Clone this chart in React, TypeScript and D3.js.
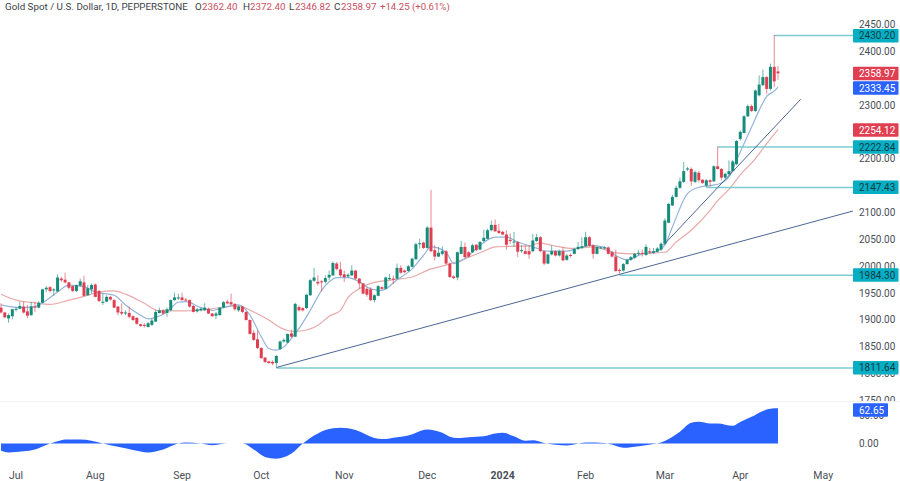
import * as d3 from "d3";
import { useEffect, useRef } from "react";

// daily candles, one entry per bar
const opens = [1923,1914,1903,1907,1919,1921,1925,1916,1909,1925,1923,1932,1957,1961,1955,1953,1977,1975,1970,1963,1954,1964,1970,1946,1957,1966,1954,1932,1934,1943,1937,1925,1915,1913,1913,1907,1904,1892,1891,1887,1891,1897,1913,1918,1913,1918,1937,1940,1942,1938,1937,1926,1916,1918,1918,1921,1912,1908,1909,1923,1934,1933,1930,1918,1925,1915,1900,1876,1864,1848,1830,1823,1822,1820,1846,1860,1858,1875,1869,1924,1922,1922,1946,1973,1971,1972,1971,1979,1983,2005,1994,1985,1981,1983,1992,1977,1968,1958,1957,1937,1945,1961,1958,1976,1977,1977,1997,1992,1991,1999,2013,2041,2044,2034,2072,2030,2018,2023,2028,2005,1981,1979,2023,2036,2026,2026,2040,2031,2047,2051,2067,2077,2066,2064,2059,2049,2045,2045,2029,2028,2028,2028,2047,2054,2028,2005,2022,2028,2020,2028,2012,2021,2023,2032,2034,2037,2054,2039,2023,2034,2034,2035,2026,2018,1993,1992,2004,2012,2016,2024,2025,2021,2028,2025,2027,2031,2042,2081,2113,2129,2146,2157,2180,2181,2157,2174,2161,2150,2160,2158,2186,2181,2165,2171,2177,2190,2237,2248,2279,2298,2289,2318,2337,2352,2330,2371,2362.4];
const highs = [1931,1915,1912,1921,1924,1934,1934,1928,1934,1934,1935,1958,1963,1963,1959,1985,1980,1988,1971,1964,1966,1977,1982,1965,1968,1968,1956,1949,1946,1945,1939,1926,1931,1918,1925,1908,1905,1893,1894,1896,1903,1918,1923,1920,1923,1938,1951,1949,1951,1941,1938,1928,1922,1923,1931,1923,1913,1915,1924,1935,1938,1949,1931,1927,1926,1916,1901,1881,1881,1849,1831,1824,1825,1835,1862,1866,1875,1882,1932,1927,1924,1948,1976,1997,1983,1974,1983,1992,2009,2008,2008,1992,1987,2002,1993,1978,1969,1961,1961,1948,1965,1963,1981,1986,1983,2005,2002,1994,2002,2016,2044,2051,2046,2075,2142,2039,2036,2037,2030,2007,1983,2027,2047,2044,2028,2042,2042,2047,2068,2070,2085,2087,2079,2066,2067,2061,2064,2047,2039,2039,2039,2060,2060,2056,2029,2024,2039,2030,2031,2036,2023,2024,2035,2045,2054,2064,2056,2041,2037,2037,2037,2037,2028,2031,1996,2006,2014,2019,2025,2030,2031,2041,2034,2034,2036,2044,2089,2118,2133,2150,2165,2194,2185,2184,2178,2177,2162,2162,2162,2188,2222.84,2183,2174,2197,2198,2235,2253,2281,2301,2301,2329,2355,2366,2354,2377,2430.2,2372.4];
const lows = [1912,1903,1895,1901,1916,1920,1912,1903,1908,1915,1922,1931,1952,1951,1945,1953,1971,1968,1957,1952,1952,1962,1944,1945,1949,1942,1934,1928,1933,1936,1922,1909,1909,1909,1903,1898,1891,1887,1886,1886,1889,1896,1912,1910,1906,1917,1936,1937,1936,1935,1923,1914,1914,1916,1917,1911,1906,1902,1908,1922,1929,1928,1917,1915,1913,1899,1873,1861,1846,1828,1820,1818,1816,1812,1844,1858,1857,1867,1868,1916,1916,1921,1945,1971,1964,1953,1968,1974,1982,1992,1980,1971,1979,1982,1975,1958,1948,1943,1935,1933,1944,1956,1957,1974,1967,1975,1986,1987,1990,1998,2012,2033,2032,2033,2026,2011,2017,2020,2003,1978,1976,1974,2022,2015,2016,2025,2028,2030,2045,2050,2065,2064,2060,2058,2031,2042,2036,2017,2025,2022,2014,2026,2045,2026,2002,2004,2020,2018,2018,2009,2010,2016,2022,2030,2032,2036,2036,2014,2022,2032,2031,2022,2016,1990,1985,1990,2003,2010,2014,2020,2018,2019,2022,2023,2025,2028,2041,2080,2112,2128,2144,2155,2177,2150,2155,2157,2153,2147.43,2148,2157,2180,2160,2162,2169,2176,2188,2234,2247,2278,2287,2287,2316,2335,2321,2327,2333,2346.82];
const closes = [1914,1905,1909,1920,1921,1926,1914,1908,1925,1923,1932,1957,1960,1954,1957,1979,1974,1970,1960,1954,1965,1972,1945,1959,1965,1943,1935,1934,1943,1938,1923,1914,1912,1914,1906,1900,1893,1889,1889,1894,1899,1915,1918,1912,1920,1937,1942,1942,1937,1937,1925,1915,1920,1921,1923,1912,1907,1912,1923,1933,1931,1929,1920,1925,1915,1900,1874,1863,1848,1829,1822,1820,1819,1833,1860,1863,1874,1869,1930,1918,1918,1947,1974,1979,1968,1970,1978,1984,2006,1995,1983,1980,1984,1992,1977,1968,1949,1947,1937,1946,1963,1958,1979,1978,1975,1997,1988,1989,2000,2014,2041,2043,2034,2072,2028,2018,2025,2028,2005,1980,1978,2026,2036,2017,2018,2039,2030,2045,2053,2067,2077,2065,2062,2059,2040,2047,2046,2027,2030,2023,2022,2048,2054,2028,2005,2022,2028,2020,2028,2011,2020,2019,2032,2036,2037,2054,2038,2023,2036,2035,2035,2023,2018,1991,1992,2004,2012,2017,2023,2025,2024,2036,2026,2028,2033,2042,2085,2116,2129,2146,2158,2177,2182,2158,2175,2160,2155,2160,2157,2186,2181,2165,2172,2177,2195,2233,2250,2279,2298,2289,2327,2338,2352,2330,2371,2344,2358.97];

// moving averages, read at a handful of bars
const fastMaBars = [0,5,9,11,15,18,22,25,30,33,37,39,41,44,47,49,53,56,60,63,66,69,71,73,75,77,79,82,85,87,89,92,95,98,101,105,109,112,114,118,120,123,127,131,134,137,141,145,150,153,156,160,163,166,170,174,176,178,182,185,188,191,193,195,197,199,201,203,205,206];
const fastMaValues = [1928,1923,1925,1932,1952,1965,1962,1952,1946,1928,1909,1902,1905,1915,1933,1934,1923,1918,1925,1928,1909,1869,1847,1844,1850,1866,1884,1918,1955,1971,1979,1979,1971,1958,1955,1975,1995,2020,2036,2026,2005,2014,2039,2054,2054,2045,2036,2028,2028,2034,2039,2035,2020,2012,2023,2028,2039,2073,2135,2147,2150,2155,2166,2197,2228,2259,2290,2316,2326,2333.45];
const slowMaBars = [0,4,9,13,18,22,26,30,33,38,42,49,55,60,63,67,71,74,77,80,84,87,90,92,95,98,104,109,114,118,123,128,131,135,140,143,146,152,157,163,168,176,179,183,188,190,193,196,200,203,206];
const slowMaValues = [1948,1937,1932,1929,1937,1944,1952,1954,1948,1931,1917,1917,1920,1925,1926,1915,1900,1886,1879,1880,1890,1907,1918,1942,1958,1968,1975,1980,1995,2002,2014,2028,2036,2037,2038,2043,2039,2033,2036,2025,2023,2026,2045,2067,2104,2122,2143,2170,2200,2228,2254.12];

// lower pane oscillator
const oscBars = [0,2,6,9,13,16,17,21,24,27,31,35,39,43,47,49,53,56,60,64,67,70,73,77,80,84,88,90,94,99,101,105,108,113,117,119,121,124,128,131,133,136,139,141,144,150,155,160,162,165,169,173,175,180,183,185,188,190,194,196,199,202,204,206];
const oscValues = [-13,-16,-14,-10.5,0,6,7,7,5,0,-6,-11.5,-16,-10.5,0,2,0,-3,0,0,-10.5,-24,-27,-18,0,18,27,28,24,10,8,11.3,14.4,25,19,12,9.6,11.3,13,18,19,13,5,6,1,-3.5,1.8,1.1,-2,-7.7,-4.8,-1,2,21,37,38.5,35.5,35.5,31.5,38.3,47.5,58,62,62.65];

const hLevels = [2430.2, 2222.84, 2147.43, 1984.3, 1811.64];
const hLevelBars = [205, 190, 187, 164, 73];
const trendStartBars = [73, 175.6];
const trendStartPrices = [1811.64, 2039];
const trendEndBars = [226, 212];
const trendEndPrices = [2103, 2310.5];

// 2350, 2250 and 2150 sit fully behind the value tags in the picture
const priceTicks = [2450,2400,2300,2200,2100,2050,2000,1950,1900,1850,1800,1750];
const monthLabels = ["Jul","Aug","Sep","Oct","Nov","Dec","2024","Feb","Mar","Apr","May"];
const monthBars = [4,25,48,69,91,113,133,155,176,196,218];

const TEAL = "#06aec4";
const UP = "#168d7b";
const DOWN = "#e03f52";
const FONT = "Roboto, sans-serif";

const App = () => {
  const ref = useRef<SVGSVGElement>(null);

  useEffect(() => {
    const svg = d3.select(ref.current);
    svg.selectAll("*").remove();

    const plotRight = 853;
    const x = d3.scaleLinear().domain([0, 206]).range([1, 778]);
    const y = d3.scaleLinear().domain([1750, 2450]).range([400.6, 24.4]);
    const yOsc = d3.scaleLinear().domain([0, 50]).range([443.5, 415.4]);

    const defs = svg.append("defs");
    defs.append("clipPath").attr("id", "plot")
      .append("rect").attr("width", plotRight).attr("height", 401);
    defs.append("clipPath").attr("id", "axisClip")
      .append("rect").attr("x", 853).attr("width", 47).attr("height", 401.5);

    const plot = svg.append("g").attr("clip-path", "url(#plot)");

    // moving averages sit under the candles
    const maLine = d3.line<number>()
      .x((d) => x(d))
      .curve(d3.curveMonotoneX);
    plot.append("path")
      .attr("d", maLine.y((_, i) => y(slowMaValues[i]))(slowMaBars))
      .attr("fill", "none").attr("stroke", "#e8a9a9").attr("stroke-width", 1.2);
    plot.append("path")
      .attr("d", maLine.y((_, i) => y(fastMaValues[i]))(fastMaBars))
      .attr("fill", "none").attr("stroke", "#94b4da").attr("stroke-width", 1.2);

    // horizontal levels
    plot.selectAll(".level").data(hLevels).join("line")
      .attr("x1", (_, i) => x(hLevelBars[i])).attr("x2", plotRight)
      .attr("y1", (d) => y(d) + 0.5).attr("y2", (d) => y(d) + 0.5)
      .attr("stroke", "#7ccbd2").attr("stroke-width", 1.4);

    // candles
    const candles = plot.selectAll("g.candle").data(closes).join("g").attr("class", "candle");
    const colour = (i: number) => (closes[i] >= opens[i] ? UP : DOWN);
    candles.append("line")
      .attr("x1", (_, i) => x(i)).attr("x2", (_, i) => x(i))
      .attr("y1", (_, i) => y(highs[i])).attr("y2", (_, i) => y(lows[i]))
      .attr("stroke", (_, i) => colour(i)).attr("stroke-opacity", 0.7).attr("stroke-width", 0.9);
    candles.append("rect")
      .attr("x", (_, i) => x(i) - 1.5).attr("width", 3)
      .attr("y", (_, i) => y(Math.max(opens[i], closes[i])))
      .attr("height", (_, i) => Math.max(1, Math.abs(y(opens[i]) - y(closes[i]))))
      .attr("fill", (_, i) => colour(i));

    // trend lines
    plot.selectAll(".trend").data(trendStartBars).join("line")
      .attr("x1", (d) => x(d)).attr("y1", (_, i) => y(trendStartPrices[i]))
      .attr("x2", (_, i) => x(trendEndBars[i])).attr("y2", (_, i) => y(trendEndPrices[i]))
      .attr("stroke", "#4a6794").attr("stroke-width", 1);

    // price scale
    svg.append("g").attr("clip-path", "url(#axisClip)")
      .selectAll("text").data(priceTicks).join("text")
      .attr("x", 859).attr("y", (d) => y(d)).attr("dy", "0.35em")
      .attr("font-family", FONT).attr("font-size", 10).attr("fill", "#4a4e58")
      .text((d) => d3.format(".2f")(d));

    // lower pane
    svg.append("line")
      .attr("x1", 0).attr("x2", 900).attr("y1", 401.5).attr("y2", 401.5)
      .attr("stroke", "#f0f1f4").attr("stroke-width", 1);
    const oscArea = d3.area<number>()
      .x((d) => x(d))
      .y0(yOsc(0))
      .y1((_, i) => yOsc(oscValues[i]))
      .curve(d3.curveMonotoneX);
    svg.append("path").attr("d", oscArea(oscBars)).attr("fill", "#2962ff");
    svg.selectAll(".osc-tick").data([50, 0]).join("text")
      .attr("x", 859).attr("y", (d) => yOsc(d)).attr("dy", "0.35em")
      .attr("font-family", FONT).attr("font-size", 10).attr("fill", "#4a4e58")
      .text((d) => d3.format(".2f")(d));

    // value tags on the price scale
    const tags = [
      { text: "2430.20", cy: 35.7, fill: TEAL, color: "#123c44" },
      { text: "2358.97", cy: 73.5, fill: DOWN, color: "#fff" },
      { text: "2333.45", cy: 88, fill: "#2962ff", color: "#fff" },
      { text: "2254.12", cy: 130, fill: DOWN, color: "#fff" },
      { text: "2222.84", cy: 147, fill: TEAL, color: "#123c44" },
      { text: "2147.43", cy: 187.3, fill: TEAL, color: "#123c44" },
      { text: "1984.30", cy: 275, fill: TEAL, color: "#123c44" },
      { text: "1811.64", cy: 367.7, fill: TEAL, color: "#123c44" },
    ];
    const tag = svg.selectAll("g.tag").data(tags).join("g").attr("class", "tag");
    tag.append("rect")
      .attr("x", 853).attr("width", 45.5).attr("y", (d) => d.cy - 6.7).attr("height", 13.4)
      .attr("rx", 1).attr("fill", (d) => d.fill);
    tag.append("text")
      .attr("x", 859).attr("y", (d) => d.cy).attr("dy", "0.35em")
      .attr("font-family", FONT).attr("font-size", 10).attr("fill", (d) => d.color)
      .text((d) => d.text);
    svg.append("rect").attr("x", 853).attr("y", 403.3).attr("width", 35).attr("height", 13.4)
      .attr("rx", 1).attr("fill", "#2962ff");
    svg.append("text").attr("x", 859).attr("y", 410).attr("dy", "0.35em")
      .attr("font-family", FONT).attr("font-size", 10).attr("fill", "#fff").text("62.65");

    // time axis
    svg.append("g").selectAll("text").data(monthLabels).join("text")
      .attr("x", (_, i) => x(monthBars[i])).attr("y", 475.5).attr("dy", "0.35em")
      .attr("text-anchor", "middle")
      .attr("font-family", FONT).attr("font-size", 10.5)
      .attr("font-weight", (d) => (d === "2024" ? 700 : 400))
      .attr("fill", "#4a4e58")
      .text((d) => d);

    // header
    const header = svg.append("g")
      .attr("font-family", FONT).attr("font-size", 9.8).attr("fill", "#3c3f48");
    const headerText = (hx: number, text: string, fill?: string) =>
      header.append("text").attr("x", hx).attr("y", 6.5).attr("dy", "0.35em")
        .attr("fill", fill ?? "#3c3f48").text(text);
    headerText(5, "Gold Spot / U.S. Dollar, 1D, PEPPERSTONE");
    const quoteKeys = ["O", "H", "L", "C"];
    const quoteValues = ["2362.40", "2372.40", "2346.82", "2358.97"];
    const quoteX = [195, 243, 289, 334];
    quoteKeys.forEach((k, i) => {
      headerText(quoteX[i], k);
      headerText(quoteX[i] + (k === "L" ? 6 : 7), quoteValues[i], "#c9505f");
    });
    headerText(380, "+14.25 (+0.61%)", "#c9505f").attr("font-size", 9.6);
  }, []);

  return (
    <svg
      ref={ref}
      width={900}
      height={481}
      style={{ position: "absolute", left: 0, top: 0, background: "#fff" }}
    />
  );
};

export default App;
